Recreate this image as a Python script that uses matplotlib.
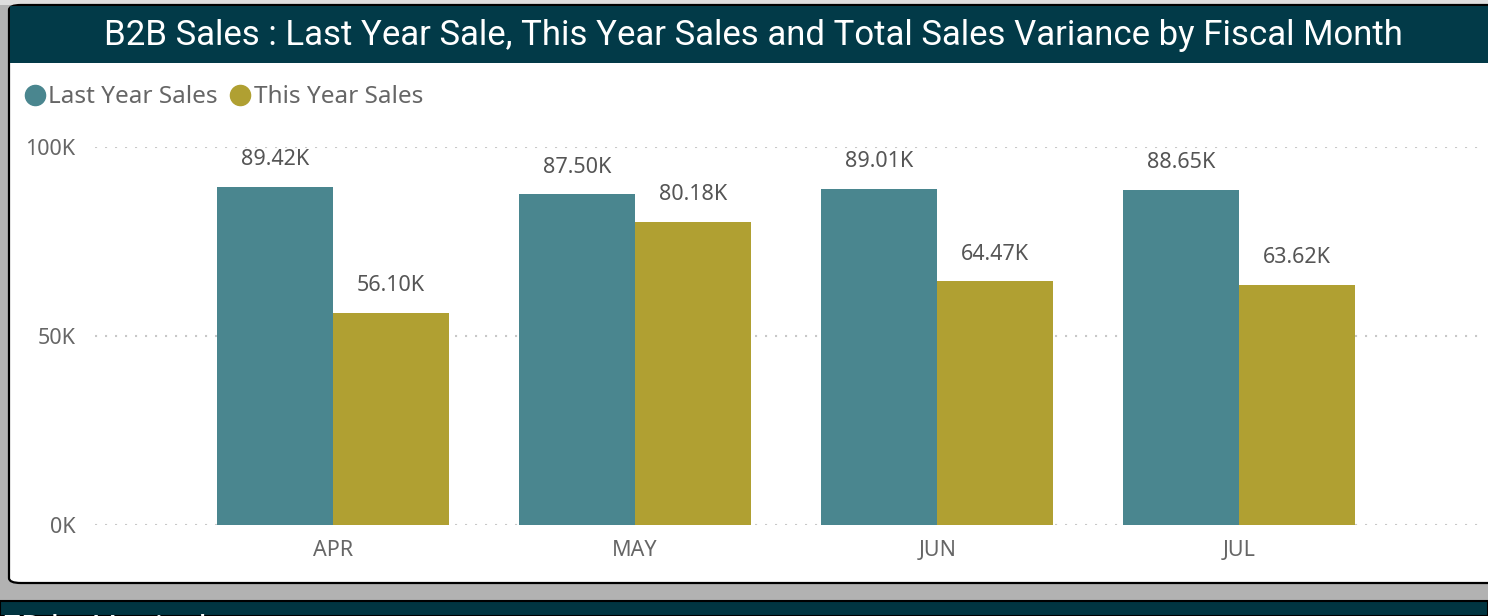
import numpy as np
import matplotlib.pyplot as plt
from matplotlib.patches import Rectangle, FancyBboxPatch
from matplotlib.lines import Line2D

# dados
meses = ['APR', 'MAY', 'JUN', 'JUL']
ano_passado = [89420, 87500, 89010, 88650]
ano_atual = [56100, 80180, 64470, 63620]
y_ticks = [0, 50000, 100000]
y_tick_labels = ['0K', '50K', '100K']

cor_ano_passado = '#4a868f'
cor_ano_atual = '#b0a032'
cor_titulo = '#023a48'
cor_texto = '#666666'

plt.rcParams['font.family'] = ['Noto Sans', 'DejaVu Sans']

W, H = 1488, 616
fig = plt.figure(figsize=(W / 100, H / 100), dpi=100)
fig.patch.set_facecolor('#b2b2b2')

def px(x, y):
    # pixel (topo-esquerda) -> fracao da figura
    return x / W, 1 - y / H

# faixa clara no topo
fig.add_artist(Rectangle(px(0, 5), 1, 5 / H, transform=fig.transFigure,
                         facecolor='#dedede', edgecolor='none', zorder=0))
# painel branco
x0, y0 = px(9, 583)
fig.add_artist(FancyBboxPatch((x0, y0), 1.2, (583 - 5) / H,
                              boxstyle='round,pad=0,rounding_size=0.008',
                              transform=fig.transFigure, facecolor='white',
                              edgecolor='black', linewidth=1.6, zorder=0.5))
# barra do titulo
fig.add_artist(Rectangle(px(10, 63), 1, 57 / H, transform=fig.transFigure,
                         facecolor=cor_titulo, edgecolor='none', zorder=1))
fig.text(753 / W, 1 - 36 / H,
         'B2B Sales : Last Year Sale, This Year Sales and Total Sales Variance by Fiscal Month',
         color='white', fontsize=25, ha='center', va='center',
         family=['Roboto', 'DejaVu Sans'], zorder=2)
# faixa escura de baixo (proximo visual, cortado na borda)
fig.add_artist(Rectangle(px(0, 616), 1, 15 / H, transform=fig.transFigure,
                         facecolor='#013541', edgecolor='black', linewidth=1.5, zorder=1))
fig.text(2 / W, 1 - 630 / H, 'ED by Vertical', color='white', fontsize=24,
         ha='left', va='center', family=['Roboto', 'DejaVu Sans'], zorder=2)

# legenda
for xc, xt, cor, nome in [(35, 48, cor_ano_passado, 'Last Year Sales'),
                          (240, 254, cor_ano_atual, 'This Year Sales')]:
    fig.add_artist(Line2D([xc / W], [1 - 95 / H], marker='o', markersize=14.5,
                          color=cor, linestyle='none', transform=fig.transFigure, zorder=2))
    fig.text(xt / W, 1 - 97 / H, nome, color=cor_texto, fontsize=17.5,
             ha='left', va='center', zorder=2)

# eixo
ax = fig.add_axes([95 / W, 1 - 525 / H, (1478 - 95) / W, (525 - 147) / H])
ax.set_facecolor('none')
ax.set_zorder(3)

x = np.arange(len(meses))
larg = 0.384
b1 = ax.bar(x - larg / 2, ano_passado, larg, color=cor_ano_passado, zorder=2)
b2 = ax.bar(x + larg / 2, ano_atual, larg, color=cor_ano_atual, zorder=2)

for barras, vals in [(b1, ano_passado), (b2, ano_atual)]:
    for b, v in zip(barras, vals):
        ax.annotate(f'{v / 1000:.2f}K', (b.get_x() + b.get_width() / 2, v),
                    xytext=(0, 12), textcoords='offset points', ha='center',
                    va='bottom', fontsize=15.5, color='#555555', clip_on=False)

ax.set_xlim(-0.788, 3.79)
ax.set_ylim(0, 100000)
ax.set_yticks(y_ticks)
ax.set_yticklabels(y_tick_labels)
ax.set_xticks(x)
ax.set_xticklabels(meses)
ax.tick_params(axis='both', length=0, labelsize=15.5, colors=cor_texto)
ax.tick_params(axis='y', pad=14)
ax.tick_params(axis='x', pad=10.5)
ax.grid(axis='y', color='#c8c8c8', linestyle=(0, (1, 3.8)), linewidth=1.5, zorder=0)
ax.set_axisbelow(True)
for s in ax.spines.values():
    s.set_visible(False)

fig.savefig('out.png', dpi=100, facecolor=fig.get_facecolor())
